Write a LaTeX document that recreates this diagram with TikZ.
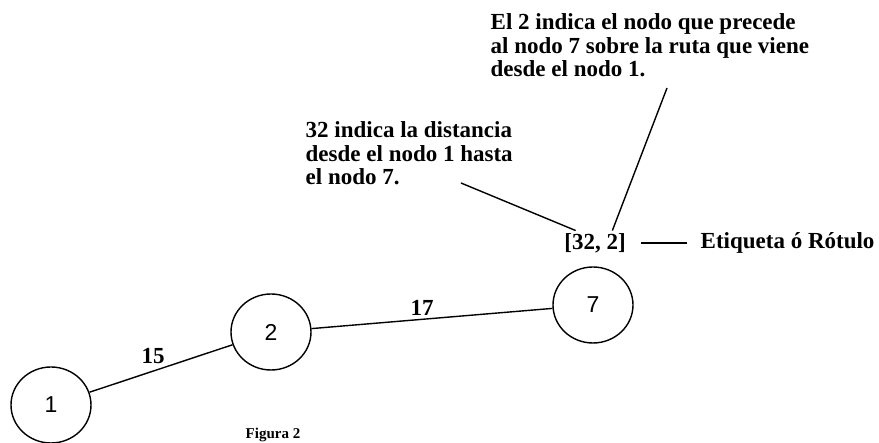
\documentclass[tikz,border=0pt]{standalone}
\usepackage{fontspec}
\setmainfont{Liberation Serif}
\newfontfamily\numfont{Liberation Sans}
\usetikzlibrary{shapes.geometric}

\begin{document}
\begin{tikzpicture}[x=1pt, y=-1pt, line width=1.4pt,
  nodo/.style={draw, ellipse, minimum width=80pt, minimum height=76pt, inner sep=0pt, font=\numfont\fontsize{23}{23}\selectfont},
  nota/.style={align=left, inner sep=0pt, anchor=north west, font=\bfseries\fontsize{23}{23.5}\selectfont},
  peso/.style={font=\bfseries\fontsize{23}{23}\selectfont, inner sep=1pt}]
\useasboundingbox (0,0) rectangle (879,443);

\node[nodo] (n1) at (51,405) {1};
\node[nodo] (n2) at (271,332) {2};
\node[nodo] (n7) at (593,305) {7};

\draw (n1) -- (n2) node[peso,midway,above,xshift=-8pt,yshift=3pt] {15};
\draw (n2) -- (n7) node[peso,midway,above,xshift=-10pt,yshift=1pt] {17};

\node[peso,inner sep=2pt] (rot) at (595,243) {[32, 2]};
\node[peso,inner sep=2pt,anchor=west] (etq) at (698,243) {Etiqueta ó Rótulo};
\draw[shorten <=13pt, shorten >=11pt] (rot.east) -- (etq.west);

\node[nota] (pre) at (490,13) {El 2 indica el nodo que precede\\al nodo 7 sobre la ruta que viene\\desde el nodo 1.};
\node[nota] (dis) at (305,121) {32 indica la distancia\\desde el nodo 1 hasta\\el nodo 7.};
\coordinate (ppre) at (667,88);
\coordinate (pdis) at (461,183);
\draw (ppre) -- ([xshift=-16pt]rot.north east);
\draw (pdis) -- ([xshift=14pt]rot.north west);

\node[font=\bfseries\fontsize{15}{15}\selectfont, anchor=base west, inner sep=0pt] (fig) at (245,439) {Figura 2};
\end{tikzpicture}
\end{document}
